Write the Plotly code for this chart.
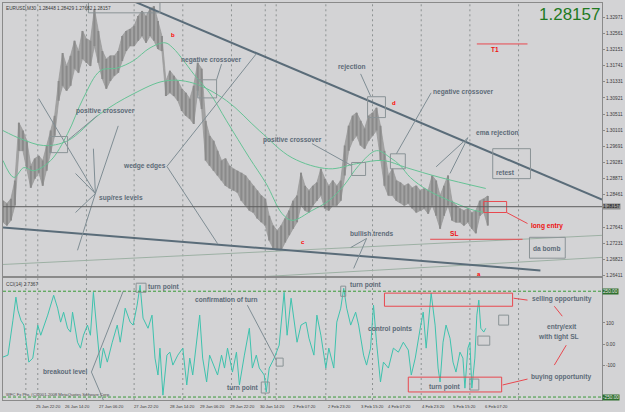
import plotly.graph_objects as go

# ---------------- data (EURUSD M30) ----------------
price_bar = list(range(0, 489, 4))
price_high = [
    1.2831, 1.2824, 1.2836, 1.2882, 1.3029, 1.3009, 1.2983, 1.2920, 1.2938, 1.2945,
    1.2933, 1.2971, 1.3009, 1.3047, 1.3135, 1.3206, 1.3173, 1.3199, 1.3237, 1.3211,
    1.3262, 1.3242, 1.3237, 1.3318, 1.3262, 1.3211, 1.3191, 1.3199, 1.3199, 1.3211,
    1.3249, 1.3262, 1.3267, 1.3275, 1.3300, 1.3313, 1.3300, 1.3318, 1.3325, 1.3287,
    1.3249, 1.3135, 1.3161, 1.3148, 1.3135, 1.3115, 1.3105, 1.3090, 1.3123, 1.3181,
    1.3166, 1.3034, 1.2996, 1.2983, 1.2958, 1.2933, 1.2938, 1.2920, 1.2912, 1.2907,
    1.2902, 1.2895, 1.2882, 1.2869, 1.2857, 1.2844, 1.2836, 1.2793, 1.2768, 1.2755,
    1.2768, 1.2786, 1.2806, 1.2831, 1.2844, 1.2902, 1.2869, 1.2857, 1.2869, 1.2877,
    1.2912, 1.2887, 1.2869, 1.2882, 1.2869, 1.2882, 1.2971, 1.3021, 1.3047, 1.3054,
    1.3034, 1.3014, 1.3047, 1.3054, 1.3067, 1.3021, 1.2958, 1.2895, 1.2912, 1.2882,
    1.2877, 1.2869, 1.2874, 1.2864, 1.2869, 1.2857, 1.2862, 1.2857, 1.2895, 1.2882,
    1.2844, 1.2869, 1.2895, 1.2831, 1.2819, 1.2811, 1.2806, 1.2811, 1.2801, 1.2806,
    1.2831, 1.2836, 1.2843]
price_low = [
    1.2776, 1.2768, 1.2781, 1.2819, 1.2958, 1.2958, 1.2912, 1.2864, 1.2887, 1.2902,
    1.2869, 1.2907, 1.2953, 1.2996, 1.3085, 1.3123, 1.3110, 1.3123, 1.3166, 1.3156,
    1.3191, 1.3181, 1.3173, 1.3224, 1.3181, 1.3140, 1.3115, 1.3135, 1.3148, 1.3156,
    1.3186, 1.3211, 1.3224, 1.3224, 1.3237, 1.3249, 1.3232, 1.3249, 1.3237, 1.3216,
    1.3211, 1.3097, 1.3105, 1.3097, 1.3085, 1.3059, 1.3047, 1.3039, 1.3026, 1.3110,
    1.3064, 1.2933, 1.2920, 1.2907, 1.2895, 1.2882, 1.2869, 1.2862, 1.2857, 1.2852,
    1.2831, 1.2819, 1.2806, 1.2801, 1.2786, 1.2776, 1.2768, 1.2730, 1.2710, 1.2705,
    1.2705, 1.2725, 1.2743, 1.2760, 1.2776, 1.2819, 1.2806, 1.2801, 1.2819, 1.2831,
    1.2844, 1.2811, 1.2806, 1.2819, 1.2819, 1.2831, 1.2895, 1.2958, 1.2983, 1.2996,
    1.2971, 1.2963, 1.2983, 1.2996, 1.3009, 1.2933, 1.2869, 1.2844, 1.2844, 1.2831,
    1.2826, 1.2819, 1.2824, 1.2811, 1.2801, 1.2806, 1.2811, 1.2798, 1.2819, 1.2793,
    1.2760, 1.2793, 1.2819, 1.2781, 1.2776, 1.2776, 1.2768, 1.2776, 1.2760, 1.2748,
    1.2793, 1.2801, 1.2768]
last_close = 1.28157
header_text = "EURUSD,M30  1.28448 1.28429 1.27682 1.28157"

ma_slow_bar = [0, 18, 41, 65, 98, 131, 163, 191, 225, 258, 291, 328, 356, 383, 406, 440, 486]
ma_slow = [1.3009, 1.2988, 1.2971, 1.2983, 1.3052, 1.3102, 1.3135, 1.3130, 1.3085, 1.3009,
           1.2940, 1.2912, 1.2925, 1.2933, 1.2915, 1.2890, 1.2862]
ma_fast_bar = [0, 11, 21, 31, 48, 65, 81, 98, 115, 131, 148, 163, 171, 195, 208, 225, 248, 265,
               281, 291, 311, 328, 343, 358, 376, 390, 400, 410, 428, 456, 475, 486]
ma_fast = [1.2933, 1.2890, 1.2915, 1.2907, 1.2933, 1.3001, 1.3092, 1.3161, 1.3168, 1.3186,
           1.3219, 1.3232, 1.3219, 1.3143, 1.3105, 1.3034, 1.2940, 1.2874, 1.2798, 1.2781,
           1.2806, 1.2831, 1.2869, 1.2920, 1.2958, 1.2940, 1.2920, 1.2890, 1.2857, 1.2824,
           1.2806, 1.2801]

cci_bar = [0, 5, 10, 13, 15, 18, 21, 26, 30, 35, 38, 45, 51, 55, 58, 61, 65, 68, 70, 75,
           78, 81, 85, 88, 91, 95, 98, 101, 105, 110, 115, 118, 123, 128, 131, 135, 138, 141, 146, 150,
           153, 156, 158, 161, 165, 168, 171, 176, 181, 185, 188, 191, 198, 201, 205, 208, 213, 216, 220, 223,
           226, 231, 235, 238, 243, 248, 251, 255, 258, 263, 265, 268, 273, 278, 283, 286, 290, 293, 296, 300,
           305, 308, 313, 316, 320, 325, 328, 333, 336, 340, 343, 346, 350, 355, 358, 363, 366, 370, 373, 376,
           380, 383, 388, 393, 398, 403, 408, 411, 415, 420, 423, 426, 430, 431, 435, 438, 440, 443, 446, 450,
           453, 456, 460, 463, 465, 468, 470, 472, 475, 477, 479, 481, 484, 486]
cci_val = [-61, -52, 113, 222, 160, 113, 90, -85, -66, 90,
           42, 137, 231, 170, 104, 151, 75, 57, 151, 9,
           -19, 42, 90, 42, 245, 57, -113, -19, -85, 9,
           90, 9, 170, 104, 90, 184, 278, 123, 75, 137,
           -66, -146, -19, -241, -52, -38, -99, -52, -19, -193,
           -66, -146, 137, -66, -179, -52, -113, -146, -52, -113,
           -19, -132, -38, -193, -52, 75, -113, -52, -113, -146,
           -226, -113, -66, -5, 245, 42, 217, 123, 9, 90,
           104, 28, -52, 137, 42, -113, -19, -113, 104, 170,
           264, 170, 90, 151, 90, -52, -99, -19, 184, 9,
           -179, -85, -113, -19, -38, 9, -28, -146, -66, 75,
           151, -19, 198, 241, 90, -113, -179, 9, 90, 28,
           -85, -132, -38, -66, -208, -19, 9, -208, -66, 137,
           208, 75, 57, 75]
cci_header = "CCI(14) 2.7367"
cci_levels = [250, -250]

price_ticks = [1.26411, 1.26821, 1.27231, 1.27641, 1.28461, 1.28871, 1.29281, 1.29691,
               1.30101, 1.30511, 1.30921, 1.31331, 1.31741, 1.32151, 1.32561, 1.32971]
cci_ticks = [100, 0, -100]
cci_ticktext = ["100", "0.00", "-100"]

time_label_bars = [-1, 31, 60, 95, 130, 166, 196, 226, 257, 290, 325, 358, 386, 420, 451, 483]
time_labels = ["22 Jan 2009", "25 Jan 22:20", "26 Jan 14:20", "27 Jan 06:20", "27 Jan 22:20",
               "28 Jan 14:20", "29 Jan 06:20", "29 Jan 22:20", "30 Jan 14:20", "2 Feb 07:20",
               "2 Feb 23:20", "3 Feb 15:20", "4 Feb 07:20", "4 Feb 23:20", "5 Feb 15:20", "6 Feb 07:20"]
separator_bars = [23, 35, 84, 132, 181, 230, 264, 275, 325, 372, 421, 470, 519]

# ---------------- drawing objects (in chart coordinates) ----------------
wedge_lines = [[(131, 1.3338), (603, 1.2834)], [(0, 1.2763), (541, 1.2654)]]
bull_lines = [[(0, 1.2669), (603, 1.2743)], [(198, 1.2629), (603, 1.2687)]]
main_boxes = [(86, 158, 1.3308, 1.3338), (47, 65, 1.2953, 1.2994), (196, 215, 1.3092, 1.3138),
              (367, 385, 1.3042, 1.3095), (351, 365, 1.2895, 1.2928), (390, 405, 1.2912, 1.2950),
              (493, 531, 1.2887, 1.2963), (530, 566, 1.2685, 1.2738)]
main_red_boxes = [(484, 507, 1.2801, 1.2829)]
main_red_lines = [[(477, 1.3229), (528, 1.3229)], [(430, 1.2733), (523, 1.2733)],
                  [(507, 1.2801), (528, 1.2773)]]
main_pointers = [
    [(95, 1.3047), (66, 1.2986)],
    [(93, 1.2849), (36, 1.3090)], [(93, 1.2849), (73, 1.2900)], [(93, 1.2849), (91, 1.2963)],
    [(93, 1.2849), (116, 1.3021)], [(93, 1.2849), (73, 1.2801)], [(93, 1.2849), (75, 1.2705)],
    [(165, 1.2918), (255, 1.3204)], [(165, 1.2918), (216, 1.2722)],
    [(220, 1.3178), (215, 1.3138)],
    [(311, 1.2976), (351, 1.2920)],
    [(360, 1.3153), (370, 1.3097)],
    [(431, 1.3105), (396, 1.2950)],
    [(468, 1.2991), (436, 1.2917)], [(468, 1.2991), (450, 1.2900)],
    [(366, 1.2735), (350, 1.2712)], [(366, 1.2735), (353, 1.2659)],
]
main_texts = [("negative crossover", 210, 1.3189), ("positive crossover", 103, 1.3059),
              ("wedge edges", 142, 1.2918), ("sup/res levels", 119, 1.2839),
              ("positive crossover", 291, 1.2986), ("rejection", 351, 1.3171),
              ("negative crossover", 464, 1.3108), ("ema rejection", 498, 1.3004),
              ("bullish trends", 371, 1.2748), ("retest", 506, 1.2902), ("da bomb", 547, 1.2710)]
main_red_texts = [("long entry", 548, 1.2766), ("SL", 454, 1.2748), ("T1", 495, 1.3214)]
fractal_marks = [("b", 171, 1.3252), ("d", 394, 1.3080), ("c", 302, 1.2725), ("a", 479, 1.2646)]

cci_boxes = [(134, 144, 245, 288), (275, 282, -104, -66), (260, 268, -231, -179),
             (340, 345, 226, 274), (499, 509, 90, 137), (478, 490, -5, 38), (470, 479, -217, -165)]
cci_red_boxes = [(384, 513, 179, 241), (408, 502, -226, -156)]
cci_red_lines = [[(514, 217), (528, 208)], [(555, 179), (563, 132)],
                 [(567, -5), (555, -99)], [(503, -193), (528, -165)]]
cci_pointers = [[(89, -132), (121, 250)], [(89, -132), (101, -264)], [(246, 184), (275, -75)]]
cci_texts = [("turn point", 162, 269), ("turn point", 365, 278), ("turn point", 242, -208),
             ("confirmation of turn", 225, 212), ("control points", 390, 71),
             ("breakout level", 63, -127), ("turn point", 445, -203),
             ("selling opportunity", 563, 212), ("entry/exit", 563, 80),
             ("with tight SL", 559, 33), ("buying opportunity", 562, -156)]

# ---------------- styles ----------------
BG = "#d3d3d5"
TXT = "#5d6b78"
FONT = "Liberation Sans"

fig = go.Figure()


def segs(lines):
    xs, ys = [], []
    for ln in lines:
        for (a, b) in ln:
            xs.append(a)
            ys.append(b)
        xs.append(None)
        ys.append(None)
    return xs, ys


def boxes(bx):
    xs, ys = [], []
    for (x0, x1, y0, y1) in bx:
        xs += [x0, x1, x1, x0, x0, None]
        ys += [y0, y0, y1, y1, y0, None]
    return xs, ys


def add_line(xs, ys, color, width, panel=1, dash="solid", shape="linear"):
    fig.add_trace(go.Scatter(x=xs, y=ys, mode="lines", hoverinfo="skip", showlegend=False,
                             line=dict(color=color, width=width, dash=dash, shape=shape),
                             xaxis="x" if panel == 1 else "x2", yaxis="y" if panel == 1 else "y2",
                             connectgaps=False))


# price band (light fill between highs and lows) + high-low bars
fig.add_trace(go.Scatter(x=price_bar + price_bar[::-1], y=price_high + price_low[::-1],
                         mode="lines", fill="toself", fillcolor="#a3a3a3",
                         line=dict(color="#9a9a9a", width=0.8), hoverinfo="skip",
                         showlegend=False, xaxis="x", yaxis="y"))
bx, by = [], []
for b, h, l in zip(price_bar, price_high, price_low):
    bx += [b, b, None]
    by += [l, h, None]
add_line(bx, by, "#8a8a8a", 2)

# moving averages
add_line(ma_slow_bar, ma_slow, "#66c295", 1, shape="spline")
add_line(ma_fast_bar, ma_fast, "#66c295", 1, shape="spline")

# trend lines
x, y = segs(bull_lines)
add_line(x, y, "#9db0a4", 1)
x, y = segs(wedge_lines)
add_line(x, y, "#5a6c79", 2)
x, y = segs(main_pointers)
add_line(x, y, "#7f8d94", 1)
x, y = boxes(main_boxes)
add_line(x, y, "#8a9396", 1)
x, y = boxes(main_red_boxes)
add_line(x, y, "#e8484f", 1)
x, y = segs(main_red_lines)
add_line(x, y, "#e8484f", 1)

# CCI
add_line(cci_bar, cci_val, "#3ec2ad", 1, panel=2)
x, y = segs(cci_pointers)
add_line(x, y, "#7f8d94", 1, panel=2)
x, y = boxes(cci_boxes)
add_line(x, y, "#8a9396", 1, panel=2)
x, y = boxes(cci_red_boxes)
add_line(x, y, "#e8484f", 1, panel=2)
x, y = segs(cci_red_lines)
add_line(x, y, "#e8484f", 1, panel=2)

shapes = []
for sb in separator_bars:
    for yr in ("y domain", "y2 domain"):
        shapes.append(dict(type="line", xref="x", yref=yr, x0=sb, x1=sb, y0=0, y1=1,
                           line=dict(color="#8d9292", width=1, dash="2px,3px"), layer="below"))
shapes.append(dict(type="line", xref="x domain", yref="y", x0=0, x1=1, y0=last_close, y1=last_close,
                   line=dict(color="#5e5e5e", width=1)))
for lv in cci_levels:
    shapes.append(dict(type="line", xref="x2 domain", yref="y2", x0=0, x1=1, y0=lv, y1=lv,
                       line=dict(color="#3a9a3a", width=1, dash="3px,2px")))

ann = []
for t, xx, yy in main_texts:
    ann.append(dict(text="<b>%s</b>" % t, x=xx, y=yy, xref="x", yref="y", showarrow=False,
                    font=dict(family=FONT, size=6.6, color=TXT)))
for t, xx, yy in main_red_texts:
    ann.append(dict(text="<b>%s</b>" % t, x=xx, y=yy, xref="x", yref="y", showarrow=False,
                    font=dict(family=FONT, size=6.6, color="#ee1111")))
for t, xx, yy in fractal_marks:
    ann.append(dict(text="<b>%s</b>" % t, x=xx, y=yy, xref="x", yref="y", showarrow=False,
                    font=dict(family=FONT, size=6, color="#ff0000")))
for t, xx, yy in cci_texts:
    ann.append(dict(text="<b>%s</b>" % t, x=xx, y=yy, xref="x2", yref="y2", showarrow=False,
                    font=dict(family=FONT, size=6.6, color=TXT)))
for b, t in zip(time_label_bars, time_labels):
    ann.append(dict(text=t, x=b, y=-0.006, xref="x2", yref="paper", xanchor="left", yanchor="top",
                    showarrow=False, font=dict(family=FONT, size=4.2, color="#3a3a3a")))
ann.append(dict(text=header_text, x=0.002, y=0.997, xref="paper", yref="paper", xanchor="left",
                yanchor="top", showarrow=False, font=dict(family=FONT, size=4.7, color="#3a3a3a")))
ann.append(dict(text="%.5f" % last_close, x=1.0, y=0.972, xref="paper", yref="paper", xanchor="right",
                yanchor="middle", showarrow=False, font=dict(family=FONT, size=17, color="#1f7a1f")))
ann.append(dict(text=cci_header, x=0.002, y=0.303, xref="paper", yref="paper", xanchor="left",
                yanchor="top", showarrow=False, font=dict(family=FONT, size=4.7, color="#3a3a3a")))
ann.append(dict(text="WFC Fx Pro, (C)2001-2008 MetaQuotes Software Corp.", x=0.002, y=0.002,
                xref="paper", yref="paper", xanchor="left", yanchor="bottom", showarrow=False,
                font=dict(family=FONT, size=4.2, color="#4a4a4a")))
ann.append(dict(text="%.5f" % last_close, x=1.0, y=last_close, xref="paper", yref="y", xanchor="left",
                yanchor="middle", showarrow=False, bgcolor="#8e8e8e", borderpad=0,
                font=dict(family=FONT, size=4.7, color="#111111")))
for lv in cci_levels:
    ann.append(dict(text="%.2f" % lv, x=1.0, y=lv, xref="paper", yref="y2", xanchor="left",
                    yanchor="middle", showarrow=False, bgcolor="#2f6f2f", borderpad=0,
                    font=dict(family=FONT, size=4.7, color="#e8e8e8")))

axis_common = dict(showgrid=False, zeroline=False, showline=True, mirror=True,
                   linecolor="#8a8a8a", linewidth=1)
fig.update_layout(
    width=625, height=412,
    margin=dict(l=2, r=20, t=2, b=12),
    paper_bgcolor=BG, plot_bgcolor=BG,
    showlegend=False,
    xaxis=dict(domain=[0, 1], range=[0, 603], anchor="y", showticklabels=False, **axis_common),
    xaxis2=dict(domain=[0, 1], range=[0, 603], anchor="y2", matches="x", showticklabels=False,
                **axis_common),
    yaxis=dict(domain=[0.3116, 1], range=[1.2639, 1.3333], side="right", anchor="x",
               tickvals=price_ticks, ticktext=["%.5f" % v for v in price_ticks],
               ticks="outside", ticklen=2, tickcolor="#8a8a8a",
               tickfont=dict(family=FONT, size=4.7, color="#3a3a3a"), **axis_common),
    yaxis2=dict(domain=[0, 0.3065], range=[-264, 311], side="right", anchor="x2",
                tickvals=cci_ticks, ticktext=cci_ticktext,
                ticks="outside", ticklen=2, tickcolor="#8a8a8a",
                tickfont=dict(family=FONT, size=4.7, color="#3a3a3a"), **axis_common),
    shapes=shapes,
    annotations=ann,
)

fig.write_html("out.html")
